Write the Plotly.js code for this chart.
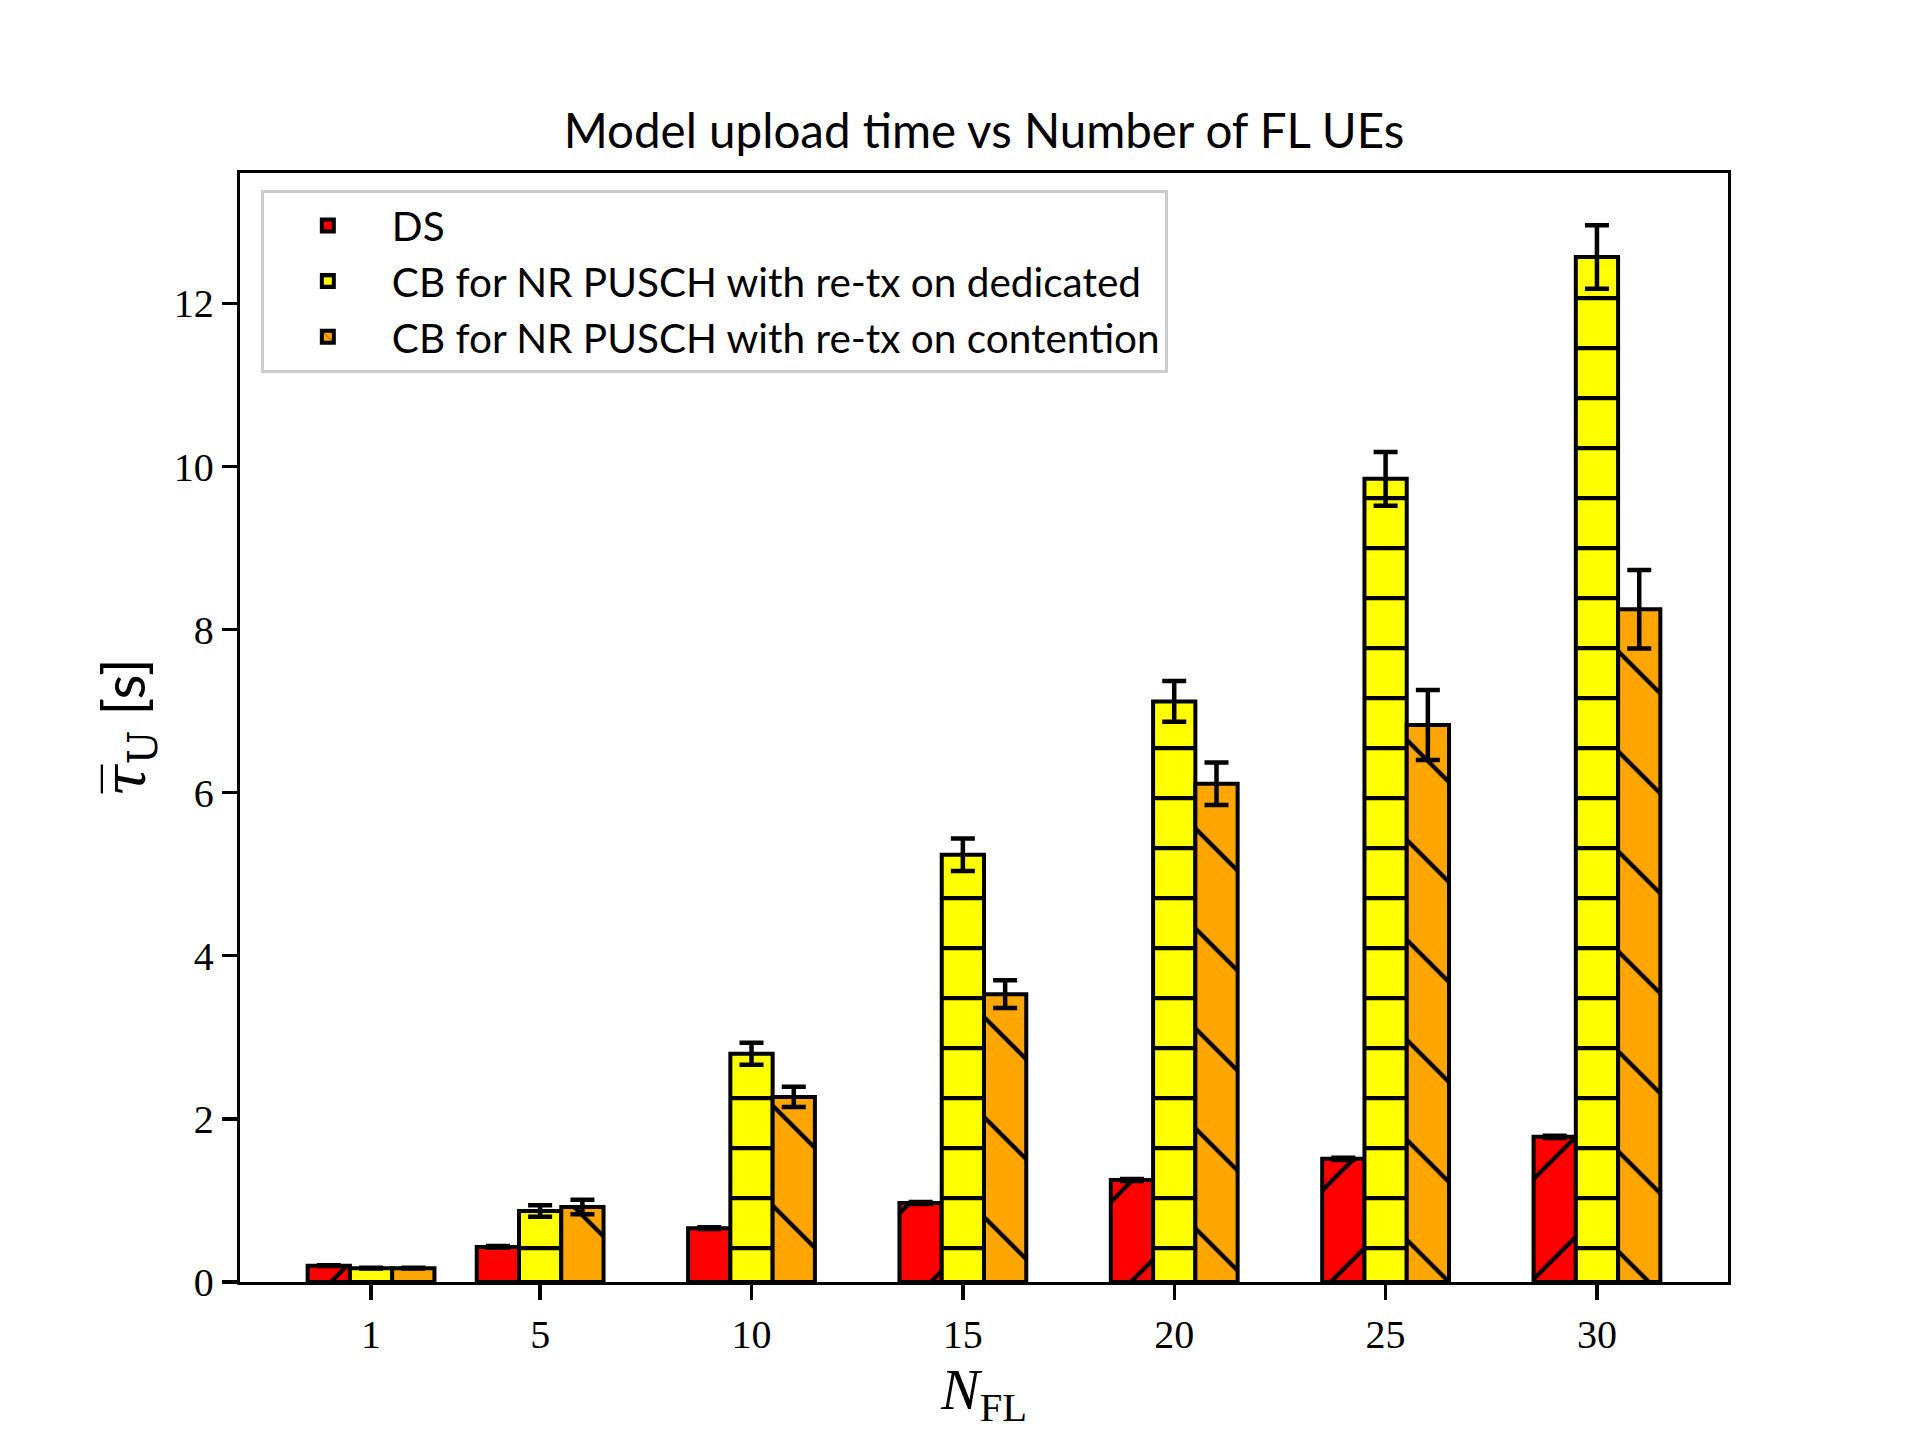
<!DOCTYPE html>
<html>
<head>
<meta charset="utf-8">
<script src="https://cdn.plot.ly/plotly-3.0.1.min.js"></script>
<style>html,body{margin:0;padding:0;background:#fff;}</style>
</head>
<body>
<div id="chart" style="width:1920px;height:1440px;"></div>
<script>
// ---- data ----
const nFL = [1, 5, 10, 15, 20, 25, 30];
const dsMean = [0.20, 0.43, 0.66, 0.97, 1.25, 1.51, 1.78];
const dsErr = [0.005, 0.01, 0.01, 0.012, 0.012, 0.015, 0.015];
const dedMean = [0.17, 0.87, 2.80, 5.24, 7.12, 9.85, 12.57];
const dedErr = [0.005, 0.07, 0.135, 0.20, 0.25, 0.33, 0.39];
const conMean = [0.17, 0.92, 2.27, 3.53, 6.11, 6.83, 8.25];
const conErr = [0.005, 0.09, 0.125, 0.17, 0.26, 0.43, 0.48];
const seriesNames = ['DS', 'CB for NR PUSCH with re-tx on dedicated', 'CB for NR PUSCH with re-tx on contention'];

const errStyle = {type: 'data', visible: true, color: '#000', thickness: 4.5, width: 12};

function barTrace(name, y, err, color, shape, size, solidity, offset) {
  return {
    type: 'bar', name: name, x: nFL, y: y,
    width: 1, offset: offset,
    marker: {
      color: color,
      line: {color: '#000', width: 4},
      pattern: {shape: shape, fgcolor: '#000', bgcolor: color, size: size, solidity: solidity, fillmode: 'replace'}
    },
    error_y: Object.assign({array: err}, errStyle)
  };
}

const traces = [
  barTrace(seriesNames[0], dsMean, dsErr, '#ff0000', '/', 70.7, 0.06, -1.5),
  barTrace(seriesNames[1], dedMean, dedErr, '#ffff00', '-', 50, 0.085, -0.5),
  barTrace(seriesNames[2], conMean, conErr, '#ffa500', '\\', 70.7, 0.06, 0.5)
];

const layout = {
  width: 1920, height: 1440,
  paper_bgcolor: '#fff', plot_bgcolor: '#fff',
  margin: {l: 240, r: 192, t: 173, b: 158, pad: 0},
  barmode: 'overlay',
  showlegend: true,
  font: {family: 'Lato, Liberation Sans, sans-serif', color: '#000'},
  title: {
    text: 'Model upload time vs Number of FL UEs',
    font: {family: 'Lato, Liberation Sans, sans-serif', size: 47.5, color: '#000'},
    x: 0.5, xanchor: 'center', xref: 'paper',
    y: 1 - 131/1440, yanchor: 'middle', yref: 'container'
  },
  xaxis: {
    range: [-2.1, 33.1],
    tickmode: 'array', tickvals: nFL, ticktext: nFL.map(String),
    ticks: 'outside', ticklen: 15, tickwidth: 3.3, tickcolor: '#000',
    tickfont: {family: 'Liberation Serif, DejaVu Serif, serif', size: 40, color: '#000'},
    showgrid: false, zeroline: false,
    showline: true, mirror: true, linecolor: '#000', linewidth: 3.3,
    title: {text: '<i>N</i><sub>FL</sub>', font: {family: 'Liberation Serif, DejaVu Serif, serif', size: 58, color: '#000'}, standoff: 0}
  },
  yaxis: {
    range: [0, 13.6],
    tickmode: 'array', tickvals: [0, 2, 4, 6, 8, 10, 12],
    ticks: 'outside', ticklen: 15, tickwidth: 3.3, tickcolor: '#000',
    tickfont: {family: 'Liberation Serif, DejaVu Serif, serif', size: 40, color: '#000'},
    showgrid: false, zeroline: false,
    showline: true, mirror: true, linecolor: '#000', linewidth: 3.3,
    title: {text: '<span style="font-family:DejaVu Serif"><i>τ\u0305</i><sub>U</sub></span> [s]', font: {family: 'Lato, Liberation Sans, sans-serif', size: 58, color: '#000'}, standoff: 10}
  },
  legend: {
    x: 0.014, y: 0.985, xanchor: 'left', yanchor: 'top',
    bgcolor: 'rgba(255,255,255,0.8)', bordercolor: '#cccccc', borderwidth: 3,
    font: {family: 'Lato, Liberation Sans, sans-serif', size: 40.5, color: '#000'},
    itemwidth: 118, traceorder: 'normal'
  }
};

Plotly.newPlot('chart', traces, layout, {displayModeBar: false, staticPlot: true});
</script>
</body>
</html>
